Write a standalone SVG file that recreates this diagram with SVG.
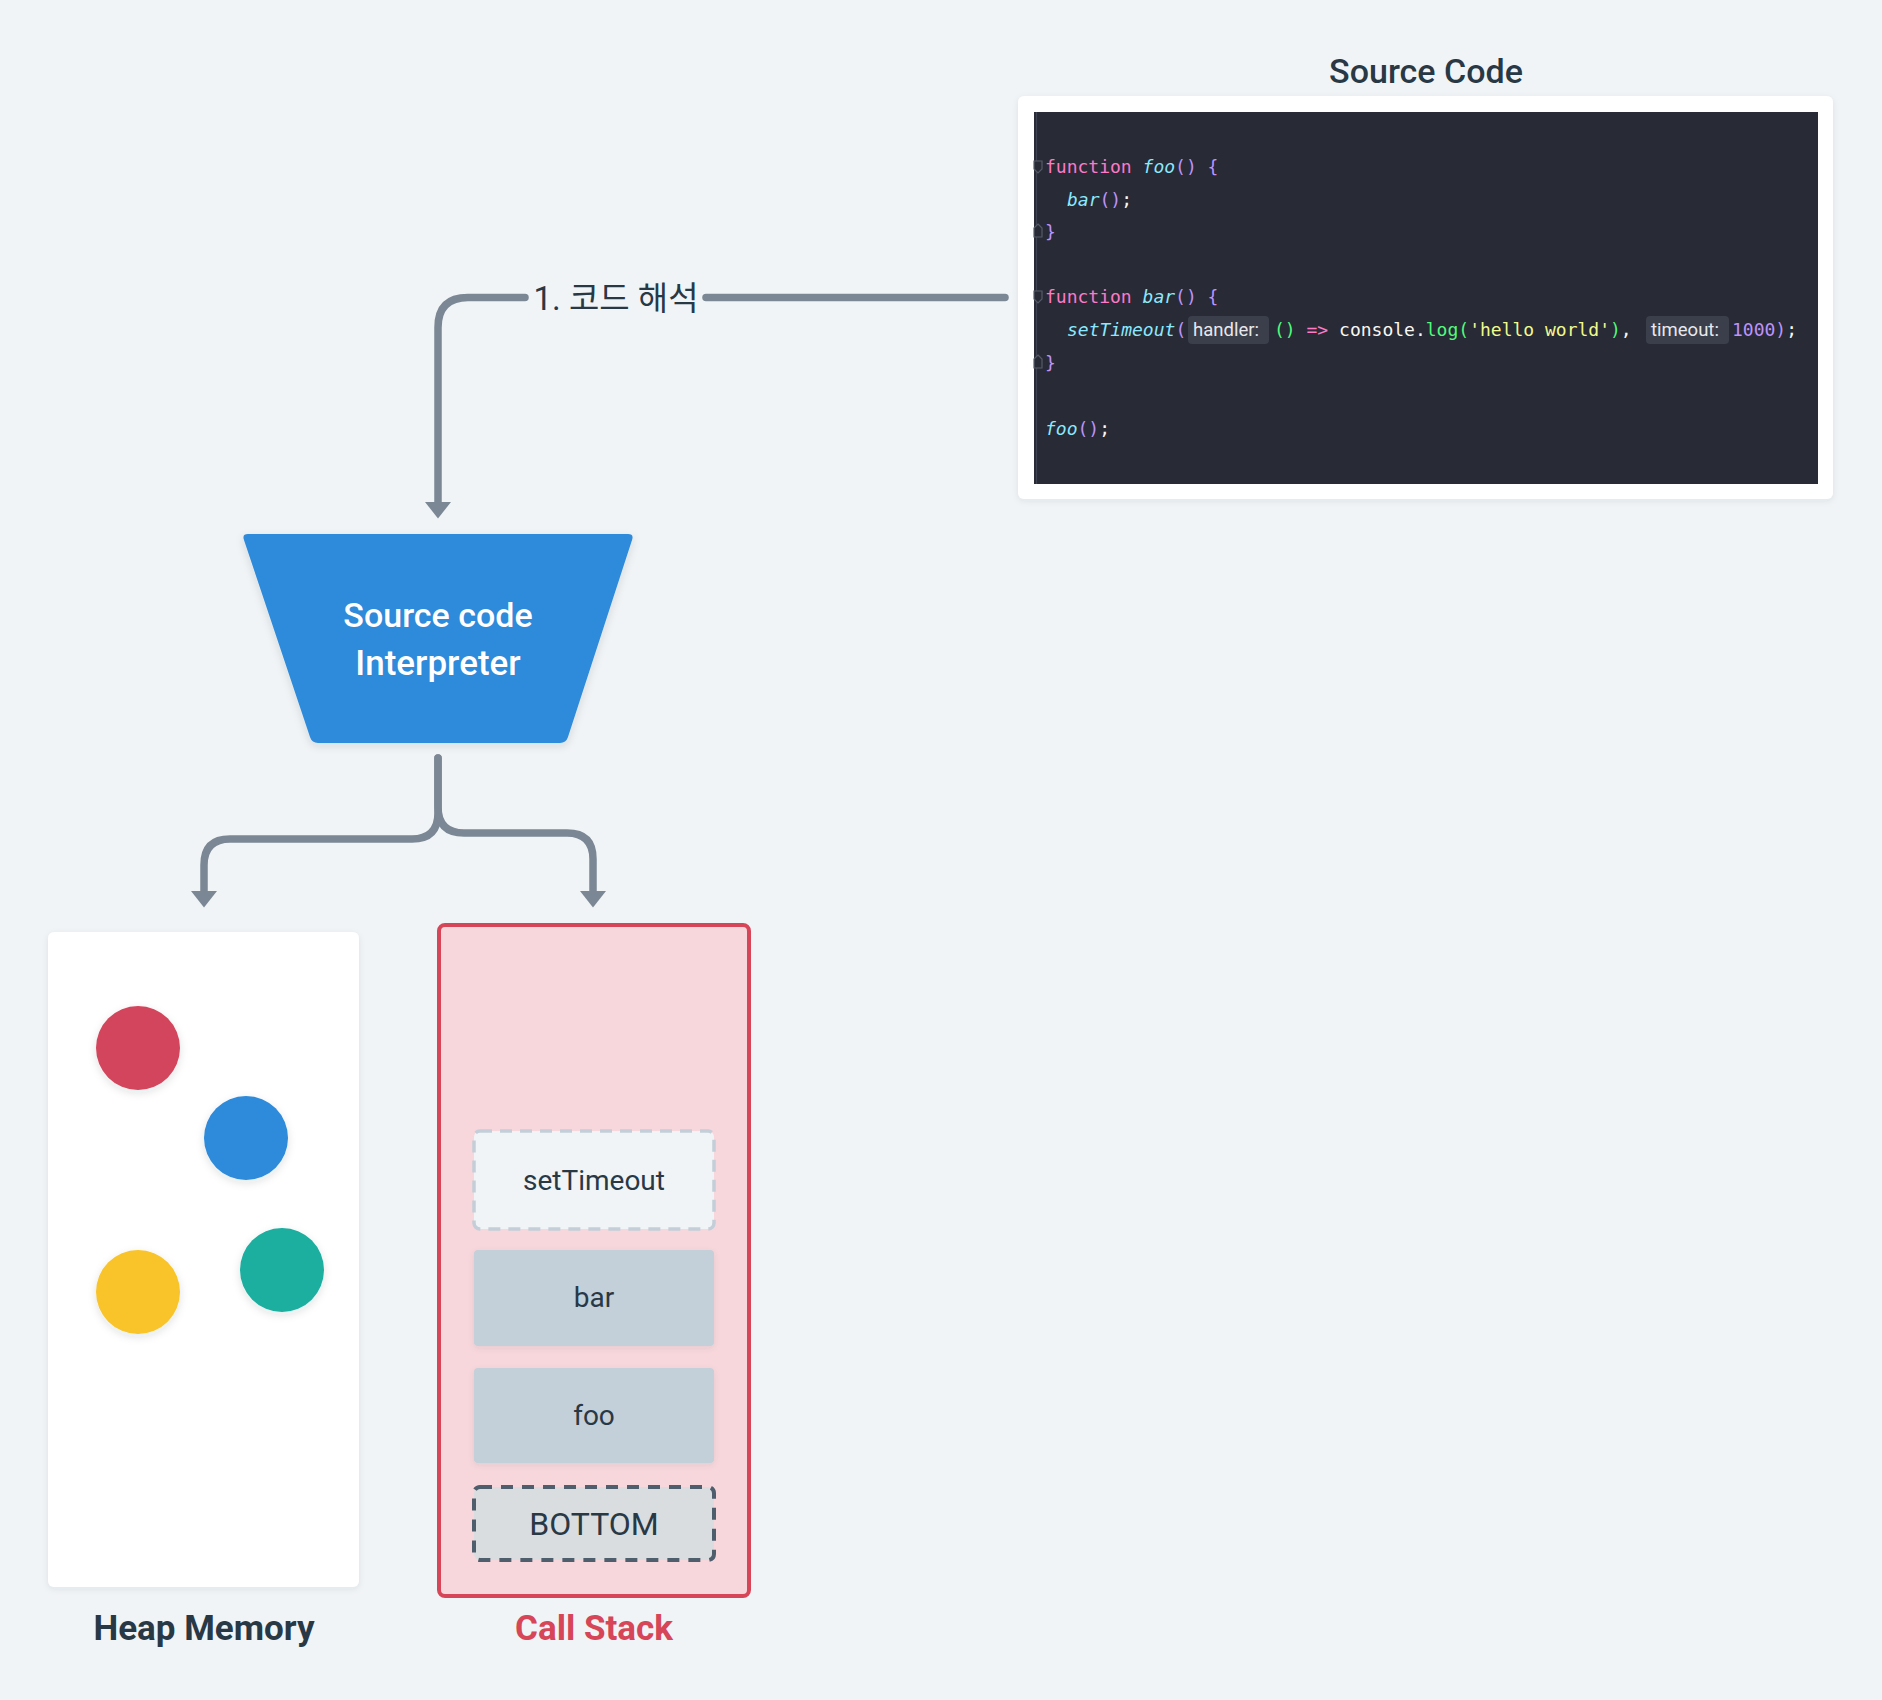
<svg xmlns="http://www.w3.org/2000/svg" width="1882" height="1700" viewBox="0 0 1882 1700">
  <defs>
    <style>
      .ui { font-family: Roboto, "Noto Sans", "Noto Sans CJK KR", sans-serif; }
      .title { font-size: 34px; font-weight: 500; fill: #293845; }
      .frame-text { font-size: 28px; fill: #293845; text-anchor: middle; }
      .frame-big { font-size: 32px; }
      .caption { font-size: 35px; font-weight: 700; text-anchor: middle; }
      .code { font-family: "DejaVu Sans Mono", "Liberation Mono", monospace; font-size: 18px; fill: #f8f8f2; }
      .kw { fill: #ff79c6; }
      .fn { fill: #8be9fd; font-style: italic; }
      .pn { fill: #bd93f9; }
      .gr { fill: #50fa7b; }
      .st { fill: #f1fa8c; }
      .num { fill: #bd93f9; }
      .hint-box { fill: #3b3e4b; }
      .hint { font-family: Roboto, "Noto Sans", sans-serif; font-size: 18.5px; fill: #e8e8ec; }
      .fold { fill: #282a36; stroke: #565a68; stroke-width: 1.2; }
      .conn { fill: none; stroke: #7b8794; stroke-width: 7.5; stroke-linecap: round; stroke-linejoin: round; }
    </style>
    <marker id="arrow" markerUnits="userSpaceOnUse" markerWidth="30" markerHeight="30" viewBox="0 -15 20 30" refX="0" refY="0" orient="auto">
      <path d="M0,-13 L16.5,0 L0,13 Z" fill="#7b8794"/>
    </marker>
    <filter id="shadow" x="-20%" y="-20%" width="140%" height="140%">
      <feDropShadow dx="0" dy="3" stdDeviation="4" flood-color="#1f2d3d" flood-opacity="0.12"/>
    </filter>
    <filter id="shadow-soft" x="-20%" y="-20%" width="140%" height="140%">
      <feDropShadow dx="0" dy="2" stdDeviation="3" flood-color="#1f2d3d" flood-opacity="0.08"/>
    </filter>
  </defs>

  <rect width="1882" height="1700" fill="#f0f4f7"/>

  <!-- Source code panel -->
  <g id="source-code">
    <text class="ui title" x="1426" y="83" text-anchor="middle">Source Code</text>
    <rect x="1018" y="96" width="815" height="403" rx="6" fill="#ffffff" filter="url(#shadow-soft)"/>
    <rect x="1034" y="112" width="784" height="372" fill="#282a36"/>
    <line x1="1036.5" y1="112" x2="1036.5" y2="484" stroke="#3f4250" stroke-width="1.2"/>
    <path class="fold" d="M1034,161 H1042 V169 L1038,173 L1034,169 Z"/>
    <path class="fold" d="M1038,224 L1042,228 V237 H1034 V228 Z"/>
    <path class="fold" d="M1034,291 H1042 V299 L1038,303 L1034,299 Z"/>
    <path class="fold" d="M1038,355 L1042,359 V368 H1034 V359 Z"/>

    <text class="code" x="1045" y="173" xml:space="preserve"><tspan class="kw">function</tspan> <tspan class="fn">foo</tspan><tspan class="pn">()</tspan> <tspan class="pn">{</tspan></text>
    <text class="code" x="1067" y="206" xml:space="preserve"><tspan class="fn">bar</tspan><tspan class="pn">()</tspan>;</text>
    <text class="code" x="1045" y="238"><tspan class="pn">}</tspan></text>
    <text class="code" x="1045" y="303" xml:space="preserve"><tspan class="kw">function</tspan> <tspan class="fn">bar</tspan><tspan class="pn">()</tspan> <tspan class="pn">{</tspan></text>
    <text class="code" x="1067" y="336"><tspan class="fn">setTimeout</tspan><tspan class="pn">(</tspan></text>
    <rect class="hint-box" x="1188" y="316" width="81" height="28" rx="4"/>
    <text class="hint" x="1193" y="336">handler:</text>
    <text class="code" x="1274" y="336" xml:space="preserve"><tspan class="gr">()</tspan> <tspan class="kw">=&gt;</tspan> console.<tspan class="gr">log(</tspan><tspan class="st">'hello world'</tspan><tspan class="gr">)</tspan>,</text>
    <rect class="hint-box" x="1646" y="316" width="83" height="28" rx="4"/>
    <text class="hint" x="1651" y="336">timeout:</text>
    <text class="code" x="1732" y="336"><tspan class="num">1000</tspan><tspan class="pn">)</tspan>;</text>
    <text class="code" x="1045" y="369"><tspan class="pn">}</tspan></text>
    <text class="code" x="1045" y="435"><tspan class="fn">foo</tspan><tspan class="pn">()</tspan>;</text>
  </g>

  <!-- Interpreter -->
  <g id="interpreter">
    <path d="M248,534 H628 Q634,534 632.1,539.7 L567.9,737.3 Q566,743 560,743 H318 Q312,743 310.1,737.3 L243.9,539.7 Q242,534 248,534 Z" fill="#2e8ada" filter="url(#shadow)"/>
    <text class="ui" x="438" y="627" text-anchor="middle" font-size="34" font-weight="500" fill="#ffffff">Source code</text>
    <text class="ui" x="438" y="675" text-anchor="middle" font-size="35" font-weight="500" fill="#ffffff">Interpreter</text>
  </g>

  <!-- Heap memory -->
  <g id="heap-memory">
    <rect x="48" y="932" width="311" height="655" rx="6" fill="#ffffff" filter="url(#shadow-soft)"/>
    <circle cx="138" cy="1048" r="42" fill="#d3455b" filter="url(#shadow)"/>
    <circle cx="246" cy="1138" r="42" fill="#2e8ada" filter="url(#shadow)"/>
    <circle cx="138" cy="1292" r="42" fill="#f8c42a" filter="url(#shadow)"/>
    <circle cx="282" cy="1270" r="42" fill="#1aae9f" filter="url(#shadow)"/>
    <text class="ui caption" x="204" y="1640" fill="#293845">Heap Memory</text>
  </g>

  <!-- Call stack -->
  <g id="call-stack">
    <rect x="439" y="925" width="310" height="671" rx="6" fill="#f7d7dc" stroke="#d64558" stroke-width="4"/>
    <text class="ui caption" x="594" y="1640" fill="#d64558">Call Stack</text>
  </g>
  <g id="frame-settimeout">
    <rect x="474" y="1131" width="240" height="98" rx="6" fill="#f0f4f7" stroke="#c3ced8" stroke-width="3.5" stroke-dasharray="12 8"/>
    <text class="ui frame-text" x="594" y="1190">setTimeout</text>
  </g>
  <g id="frame-bar">
    <rect x="474" y="1250" width="240" height="96" rx="4" fill="#c3cfd9" filter="url(#shadow-soft)"/>
    <text class="ui frame-text" x="594" y="1307">bar</text>
  </g>
  <g id="frame-foo">
    <rect x="474" y="1368" width="240" height="95" rx="4" fill="#c3cfd9" filter="url(#shadow-soft)"/>
    <text class="ui frame-text" x="594" y="1425">foo</text>
  </g>
  <g id="frame-bottom">
    <rect x="474" y="1487" width="240" height="73" rx="6" fill="#dadde0" stroke="#4f5e6c" stroke-width="4" stroke-dasharray="12 9"/>
    <text class="ui frame-text frame-big" x="594" y="1535">BOTTOM</text>
  </g>

  <!-- Connectors -->
  <g id="connectors">
    <path class="conn" d="M1005,297.5 H706"/>
    <path class="conn" d="M525,297.5 H468 Q438,297.5 438,327.5 V502" marker-end="url(#arrow)"/>
    <text class="ui" x="616" y="310" text-anchor="middle" font-size="33" fill="#293845">1. 코드 해석</text>
    <path class="conn" d="M438,758 V813 Q438,839 412,839 H230 Q204,839 204,865 V891" marker-end="url(#arrow)"/>
    <path class="conn" d="M438,758 V807 Q438,833 464,833 H567 Q593,833 593,859 V891" marker-end="url(#arrow)"/>
  </g>
</svg>
